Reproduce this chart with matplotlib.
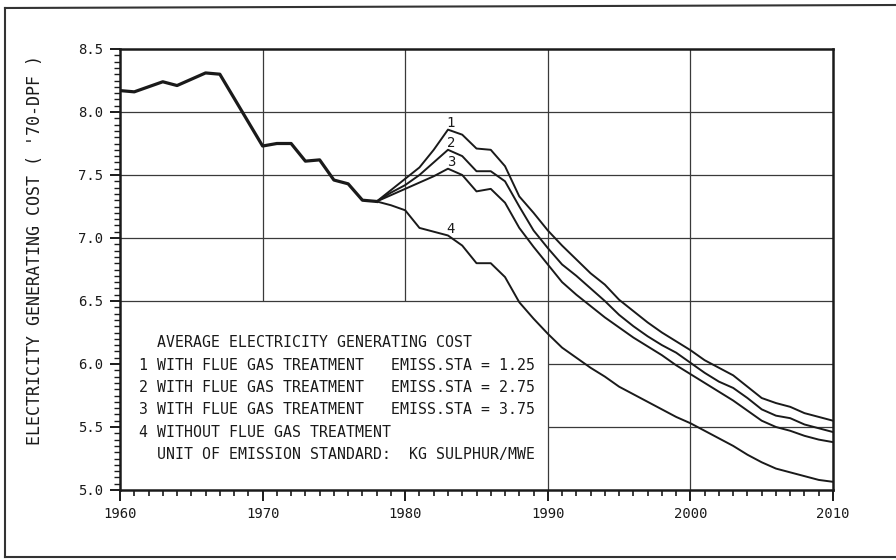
import numpy as np
import matplotlib
matplotlib.use("Agg")
import matplotlib.pyplot as plt
from matplotlib.lines import Line2D

# common history 1960-1978
years_hist = list(range(1960, 1979))
cost_hist = [8.17, 8.16, 8.20, 8.24, 8.21, 8.26, 8.31, 8.30, 8.11, 7.92,
             7.73, 7.75, 7.75, 7.61, 7.62, 7.46, 7.43, 7.30, 7.29]

# scenarios 1979-2010
years_proj = list(range(1979, 2011))
cost_1 = [7.38, 7.47, 7.56, 7.70, 7.86, 7.82, 7.71, 7.70, 7.57, 7.33,
          7.20, 7.06, 6.94, 6.83, 6.72, 6.63, 6.51, 6.42, 6.33, 6.25,
          6.18, 6.11, 6.03, 5.97, 5.91, 5.82, 5.73, 5.69, 5.66, 5.61,
          5.58, 5.55]
cost_2 = [7.36, 7.42, 7.50, 7.60, 7.70, 7.65, 7.53, 7.53, 7.45, 7.25,
          7.06, 6.92, 6.79, 6.70, 6.60, 6.50, 6.39, 6.30, 6.22, 6.15,
          6.09, 6.01, 5.93, 5.86, 5.81, 5.73, 5.64, 5.59, 5.57, 5.52,
          5.49, 5.46]
cost_3 = [7.34, 7.39, 7.44, 7.49, 7.55, 7.50, 7.37, 7.39, 7.28, 7.08,
          6.93, 6.79, 6.65, 6.55, 6.46, 6.37, 6.29, 6.21, 6.14, 6.07,
          5.99, 5.92, 5.85, 5.78, 5.71, 5.63, 5.55, 5.50, 5.47, 5.43,
          5.40, 5.38]
cost_4 = [7.26, 7.22, 7.08, 7.05, 7.02, 6.94, 6.80, 6.80, 6.69, 6.49,
          6.36, 6.24, 6.13, 6.05, 5.97, 5.90, 5.82, 5.76, 5.70, 5.64,
          5.58, 5.53, 5.47, 5.41, 5.35, 5.28, 5.22, 5.17, 5.14, 5.11,
          5.08, 5.065]
series = [cost_1, cost_2, cost_3, cost_4]
series_ids = ["1", "2", "3", "4"]

legend_title = "AVERAGE ELECTRICITY GENERATING COST"
legend_rows = ["1 WITH FLUE GAS TREATMENT   EMISS.STA = 1.25",
               "2 WITH FLUE GAS TREATMENT   EMISS.STA = 2.75",
               "3 WITH FLUE GAS TREATMENT   EMISS.STA = 3.75",
               "4 WITHOUT FLUE GAS TREATMENT"]
legend_unit = "UNIT OF EMISSION STANDARD:  KG SULPHUR/MWE"
ylabel = "ELECTRICITY GENERATING COST ( '70-DPF )"

mono = "DejaVu Sans Mono"
ink = "#1a1a1a"

fig = plt.figure(figsize=(8.96, 5.6), dpi=100)
ax = fig.add_axes([120/896, 1-490/560, 713/896, 441/560])

# partial grid like the plotter original
grid_kw = dict(color="#3a3a3a", lw=0.9, zorder=1)
ax.vlines([1970, 1980], 6.5, 8.5, **grid_kw)
ax.vlines([1990, 2000], 5.0, 8.5, **grid_kw)
ax.hlines([6.5, 7.0, 7.5, 8.0], 1960, 2010, **grid_kw)
ax.hlines([5.5, 6.0], 1990, 2010, **grid_kw)

# curves
ax.plot(years_hist, cost_hist, color=ink, lw=2.3, zorder=3)
for vals, sid in zip(series, series_ids):
    ax.plot([years_hist[-1]] + years_proj, [cost_hist[-1]] + vals,
            color=ink, lw=1.4, zorder=3)
    i = years_proj.index(1983)
    ax.text(1983.2, vals[i] + 0.055, sid, family=mono, fontsize=10,
            ha="center", va="center", color=ink)

ax.set_xlim(1960, 2010)
ax.set_ylim(5.0, 8.5)
ax.set_xticks(range(1960, 2011, 10))
ax.set_xticks(range(1960, 2011), minor=True)
ax.set_yticks(np.arange(5.0, 8.51, 0.5))
ax.set_yticks(np.arange(5.0, 8.51, 0.05), minor=True)
ax.set_yticklabels(["%.1f" % v for v in np.arange(5.0, 8.51, 0.5)])

for s in ax.spines.values():
    s.set_linewidth(1.8)
    s.set_color(ink)
ax.tick_params(axis="x", which="major", direction="out", length=8, width=1.4,
               pad=4, labelsize=10, colors=ink)
ax.tick_params(axis="x", which="minor", direction="out", length=4, width=1.2, colors=ink)
ax.tick_params(axis="y", which="major", direction="out", length=7, width=1.4,
               pad=5, labelsize=10, colors=ink)
ax.tick_params(axis="y", which="minor", direction="out", length=4, width=1.0, colors=ink)
for lab in ax.get_xticklabels() + ax.get_yticklabels():
    lab.set_family(mono)

# legend block inside the axes
row_y = [5.992, 5.813, 5.635, 5.456]
ax.text(1962.6, 6.171, legend_title, family=mono, fontsize=10.7, va="center", color=ink)
for txt, yy in zip(legend_rows, row_y):
    ax.text(1961.3, yy, txt, family=mono, fontsize=10.7, va="center", color=ink)
ax.text(1962.6, 5.278, legend_unit, family=mono, fontsize=10.7, va="center", color=ink)

fig.text(35/896, 1-250/560, ylabel, family=mono, fontsize=12, rotation=90,
         ha="center", va="center", color=ink)

# outer frame of the scanned page
fig.add_artist(Line2D([5/896, 5/896], [1-8/560, 1-557/560], transform=fig.transFigure,
                      color="#333333", lw=1.5))
fig.add_artist(Line2D([5/896, 1.0], [1-8/560, 1-5/560], transform=fig.transFigure,
                      color="#333333", lw=1.5))
fig.add_artist(Line2D([5/896, 1.0], [1-557/560, 1-557/560], transform=fig.transFigure,
                      color="#333333", lw=1.5))

fig.savefig("out.png", dpi=100)
